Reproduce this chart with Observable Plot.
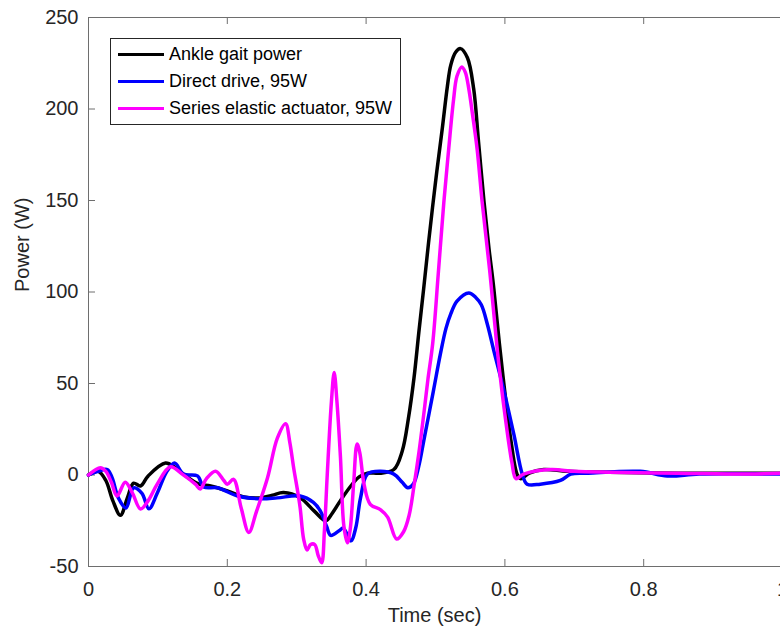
<!DOCTYPE html>
<html><head><meta charset="utf-8">
<script src="https://cdn.jsdelivr.net/npm/d3@7"></script>
<script src="https://cdn.jsdelivr.net/npm/@observablehq/plot@0.6"></script>
<style>
body{margin:0;background:#fff;}
#wrap{position:relative;width:780px;height:634px;overflow:hidden;font-family:"Liberation Sans",Arial,sans-serif;}
#legend{position:absolute;left:110px;top:38px;border:1px solid #262626;background:#fff;padding:2px 8px 2px 7px;}
.row{display:flex;align-items:center;height:27px;}
.sw{width:46px;height:3px;margin-right:5px;}
.lab{font-size:18px;color:#000;white-space:nowrap;}
</style></head><body><div id="wrap"></div>
<script>
const seriesNames = ["Ankle gait power", "Direct drive, 95W", "Series elastic actuator, 95W"];
const seriesColors = ["#000000", "#0000ff", "#ff00ff"];
const xTicks = [0, 0.2, 0.4, 0.6, 0.8, 1];
const yTicks = [-50, 0, 50, 100, 150, 200, 250];

const tAnkle = [0,0.014,0.025,0.035,0.046,0.056,0.065,0.075,0.086,0.111,0.125,0.14,0.159,0.176,0.2,0.224,0.248,0.265,0.281,0.305,0.325,0.342,0.351,0.363,0.378,0.39,0.402,0.42,0.44,0.452,0.461,0.469,0.476,0.483,0.49,0.5,0.51,0.517,0.522,0.529,0.536,0.546,0.555,0.562,0.57,0.577,0.584,0.592,0.6,0.609,0.618,0.623,0.635,0.656,0.69,0.75,0.85,0.95,1];
const pAnkle = [0,2,-3,-14,-22,-12.5,-4.5,-6,-0.5,6.5,4,-0.5,-5,-6,-8.7,-12,-12.5,-11,-9.6,-12.4,-19.6,-25,-21,-14,-6,-1,1,1,3,13,31,53,78,102,127,160,190,212,224,231,233,228,211,182,149,124,102,72,45,18,0,-2,1,3,2,1.5,1,1,1];

const tDirect = [0,0.014,0.027,0.034,0.043,0.054,0.065,0.077,0.087,0.099,0.113,0.124,0.137,0.157,0.166,0.186,0.215,0.248,0.272,0.305,0.324,0.334,0.343,0.349,0.361,0.367,0.378,0.385,0.392,0.402,0.421,0.44,0.452,0.46,0.468,0.476,0.483,0.497,0.507,0.515,0.522,0.531,0.548,0.558,0.566,0.575,0.584,0.598,0.613,0.625,0.632,0.651,0.68,0.695,0.72,0.795,0.834,0.88,1];
const pDirect = [0,2,3,-1.5,-12.5,-18,-7,-10,-18.5,-10,2,6.5,0.5,-0.5,-6.5,-7,-11.5,-13,-12.5,-11.5,-15,-19.6,-28,-33,-30.5,-29,-36,-29,-12.5,0.5,2,0.5,-4,-7,-5,5,18.5,46,66,80,88,95,99.5,97,93,82,68,47,22,0.5,-5,-5,-3,0.5,1,2,-0.5,0.5,0.5];

const tSEA = [0,0.017,0.025,0.033,0.041,0.053,0.063,0.075,0.086,0.099,0.118,0.135,0.154,0.161,0.17,0.183,0.195,0.2,0.209,0.22,0.231,0.242,0.258,0.272,0.284,0.29,0.296,0.301,0.305,0.31,0.315,0.32,0.326,0.331,0.336,0.34,0.344,0.35,0.354,0.358,0.363,0.368,0.373,0.377,0.382,0.387,0.391,0.397,0.406,0.421,0.431,0.444,0.454,0.462,0.469,0.476,0.484,0.489,0.496,0.504,0.512,0.519,0.526,0.531,0.538,0.543,0.548,0.553,0.56,0.567,0.578,0.59,0.6,0.61,0.616,0.627,0.666,0.7,0.75,0.85,0.95,1];
const pSEA = [0,4,2,-4,-11.5,-4,-9.6,-18.6,-14,-5,4.5,0.5,-5,-7.6,-2,2,-3,-5,-2.4,-18,-31.4,-20,-1.5,20,28,18,3,-8,-18,-35,-41,-38,-38,-44,-48,-30,0,40,56,40,10,-28,-37,-30,-5,17,12,-5,-16,-19,-23,-35,-31,-22,-6,12,36,52,72,110,149,178,205,218,223,220,211,198,178,150,112,65,33,7,-2,0.5,3,2,1.5,1,0.5,1];

const rows = (t, p, s) => t.map((x, i) => ({t: x, p: p[i], s}));
const data = [
  ...rows(tAnkle, pAnkle, seriesNames[0]),
  ...rows(tDirect, pDirect, seriesNames[1]),
  ...rows(tSEA, pSEA, seriesNames[2])
];

const axisColor = "#6e6e6e";
const textColor = "#262626";
const W = 780, H = 634, mL = 88, mT = 17, mB = 68;
const frameH = H - mT - mB, frameW = W - mL;

const chart = Plot.plot({
  width: W, height: H,
  marginLeft: mL, marginRight: 0, marginTop: mT, marginBottom: mB,
  style: {fontFamily: "'Liberation Sans', Arial, sans-serif", fontSize: "20px", color: textColor, background: "#fff", overflow: "visible"},
  x: {domain: [0, 1], range: [mL, 782], label: null},
  y: {domain: [-50, 250], range: [H - mB, mT], label: null},
  color: {domain: seriesNames, range: seriesColors},
  marks: [
    Plot.ruleY([-50, 250], {stroke: axisColor, strokeWidth: 1}),
    Plot.ruleX([0], {stroke: axisColor, strokeWidth: 1}),
    Plot.ruleX(xTicks, {x: d => d, stroke: axisColor, insetTop: frameH - 7}),
    Plot.ruleX(xTicks, {x: d => d, stroke: axisColor, insetBottom: frameH - 7}),
    Plot.ruleY(yTicks, {y: d => d, stroke: axisColor, insetRight: frameW - 7}),
    Plot.axisX(xTicks, {anchor: "bottom", tickSize: 0, tickPadding: 15, tickFormat: d => String(d), fill: textColor, fontSize: 20}),
    Plot.axisY(yTicks, {anchor: "left", tickSize: 0, tickPadding: 10, tickFormat: d => String(d), fill: textColor, fontSize: 20}),
    Plot.line(data, {x: "t", y: "p", z: "s", stroke: "s", strokeWidth: 3.5, curve: "catmull-rom", strokeLinejoin: "round"}),
    Plot.text(["Power (W)"], {frameAnchor: "left", dx: -66, rotate: -90, fontSize: 20, fill: textColor}),
    Plot.text(["Time (sec)"], {frameAnchor: "bottom", dy: 55, fontSize: 20, fill: textColor})
  ]
});
const wrap = document.getElementById("wrap");
wrap.appendChild(chart);

const legend = document.createElement("div");
legend.id = "legend";
seriesNames.forEach((n, i) => {
  const r = document.createElement("div"); r.className = "row";
  const sw = document.createElement("div"); sw.className = "sw"; sw.style.background = seriesColors[i];
  const lb = document.createElement("span"); lb.className = "lab"; lb.textContent = n;
  r.appendChild(sw); r.appendChild(lb); legend.appendChild(r);
});
wrap.appendChild(legend);
</script>
</body></html>
